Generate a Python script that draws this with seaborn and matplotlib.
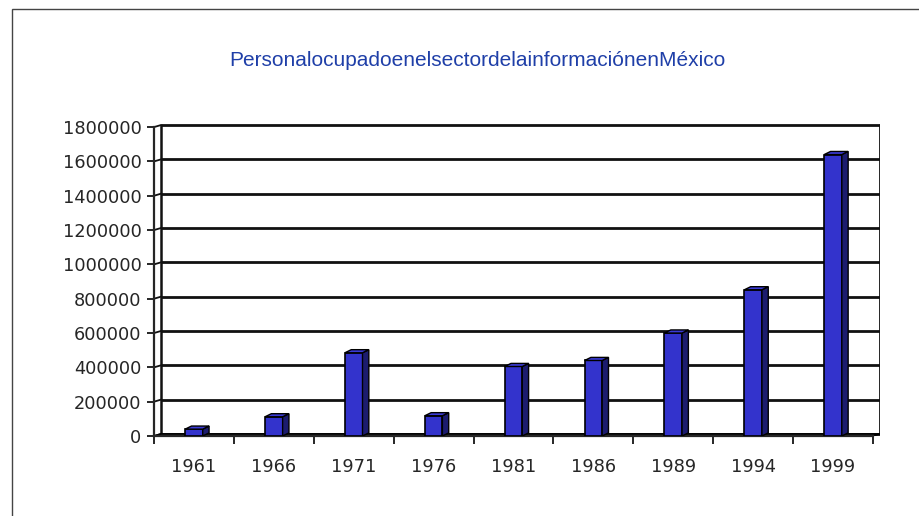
import matplotlib
matplotlib.use("Agg")
import matplotlib.pyplot as plt
from matplotlib.patches import Polygon, Rectangle
import seaborn as sns
import pandas as pd

years = ["1961", "1966", "1971", "1976", "1981", "1986", "1989", "1994", "1999"]
personal = [40000, 112000, 485000, 118000, 405000, 440000, 600000, 852000, 1640000]
yticks = [0, 200000, 400000, 600000, 800000, 1000000, 1200000, 1400000, 1600000, 1800000]
title = "Personalocupadoenelsectordelainformaci\u00f3nenM\u00e9xico"

df = pd.DataFrame({"year": years, "personal": personal})

sns.set_style("white")
plt.rcParams["font.family"] = ["DejaVu Sans"]

fig = plt.figure(figsize=(9.2, 5.16), dpi=100)
ax = fig.add_axes([154 / 920, 1 - 436 / 516, 726 / 920, 312 / 516])

front = "#3333cc"
side = "#1c1c6e"
top = "#3a3ad6"

sns.barplot(data=df, x="year", y="personal", color=front, width=0.22,
            edgecolor="black", linewidth=1.2, saturation=1, ax=ax, zorder=3)

# depth offset of the 3D look (front -> back wall)
dx = 0.088
dy = 18000
wall_dy = 12000

ax.set_xlim(-0.5, 8.5 + dx)
ax.set_ylim(0, 1800000 + wall_dy + 6000)

for p in ax.patches:
    x0 = p.get_x()
    w = p.get_width()
    h = p.get_height()
    ax.add_patch(Polygon([(x0 + w, 0), (x0 + w + dx * 0.9, dy), (x0 + w + dx * 0.9, h + dy), (x0 + w, h)],
                         closed=True, facecolor=side, edgecolor="black", lw=1.0, zorder=3))
    ax.add_patch(Polygon([(x0, h), (x0 + dx * 0.9, h + dy), (x0 + w + dx * 0.9, h + dy), (x0 + w, h)],
                         closed=True, facecolor=top, edgecolor="black", lw=1.0, zorder=3))

# back wall gridlines
for v in yticks:
    ax.plot([-0.5 + dx, 8.5 + dx], [v + wall_dy, v + wall_dy], color="#111111", lw=2.0,
            zorder=1, solid_capstyle="butt")
    ax.plot([-0.5, -0.5 + dx], [v, v + wall_dy], color="#111111", lw=1.3, zorder=1)
ax.plot([-0.5 + dx, -0.5 + dx], [wall_dy, 1800000 + wall_dy], color="#111111", lw=1.8, zorder=1)
ax.plot([8.5 + dx, 8.5 + dx], [wall_dy, 1800000 + wall_dy], color="#111111", lw=2.0, zorder=1)
# floor
ax.add_patch(Polygon([(-0.5, 0), (-0.5 + dx, wall_dy), (8.5 + dx, wall_dy), (8.5, 0)], closed=True,
                     facecolor="#3a3a3a", edgecolor="black", lw=1.2, zorder=2))

for s in ["top", "right"]:
    ax.spines[s].set_visible(False)
ax.spines["left"].set_linewidth(1.6)
ax.spines["bottom"].set_linewidth(1.6)
ax.spines["left"].set_bounds(0, 1800000)
ax.spines["bottom"].set_bounds(-0.5, 8.5)

ax.set_yticks(yticks)
ax.set_yticklabels([str(v) for v in yticks], fontsize=12.8)
ax.tick_params(axis="y", direction="out", length=5, width=1.4, pad=4, left=True)
ax.set_xticks(range(len(years)))
ax.set_xticklabels(years, fontsize=12.8)
ax.set_xticks([i - 0.5 for i in range(len(years) + 1)], minor=True)
ax.tick_params(axis="x", which="major", length=0, pad=16)
ax.tick_params(axis="x", which="minor", direction="out", length=6, width=1.4, bottom=True)
ax.set_xlabel("")
ax.set_ylabel("")
ax.grid(False)

fig.text(0.519, 1 - 60 / 516, title, ha="center", va="center", color="#1f3fa8",
         fontsize=15, family=["Liberation Sans", "DejaVu Sans"])

# outer chart frame
fig.patches.append(Rectangle((12 / 920, -0.1), 1.0, 1 - 9 / 516 + 0.1,
                             transform=fig.transFigure, fill=False,
                             edgecolor="#444444", lw=1.0))

fig.savefig("out.png", dpi=100)
